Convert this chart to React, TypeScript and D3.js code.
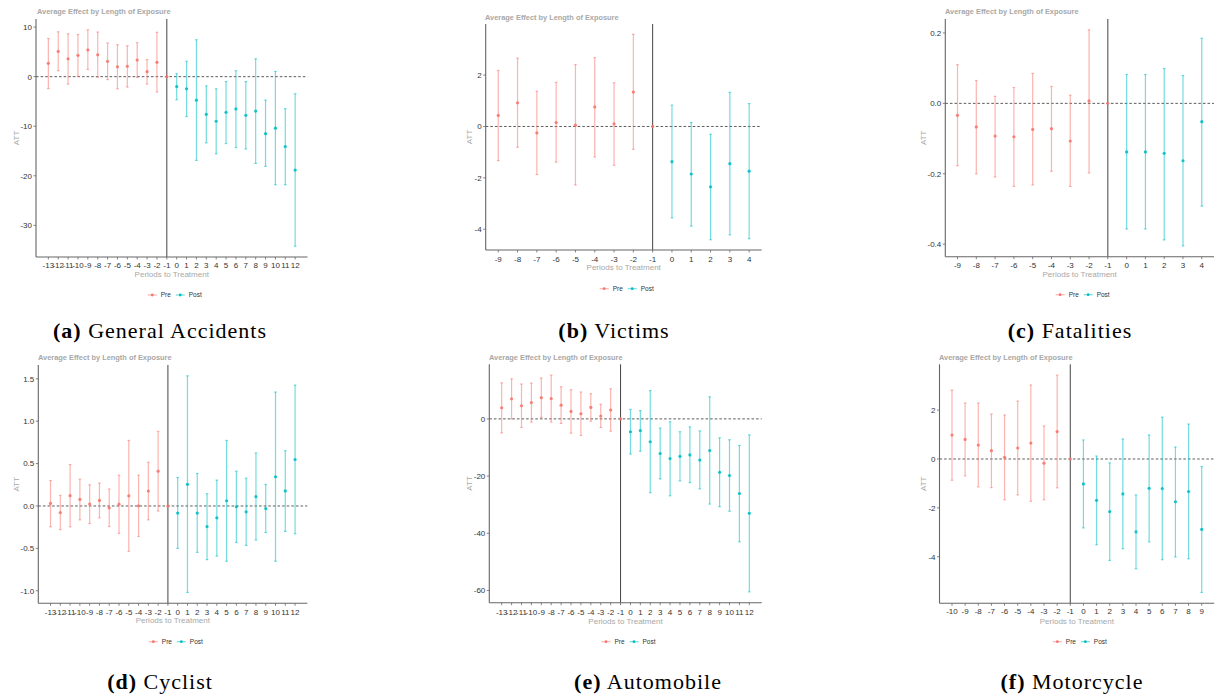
import React from "react";
import * as d3 from "d3";

// ---------- DATA ----------
const accidentsPeriods = [-13, -12, -11, -10, -9, -8, -7, -6, -5, -4, -3, -2, -1, 0, 1, 2, 3, 4, 5, 6, 7, 8, 9, 10, 11, 12];
const accidentsATT = [2.7, 5.1, 3.6, 4.3, 5.4, 4.4, 3.1, 2.0, 2.1, 3.35, 1.0, 2.9, 0, -2.0, -2.45, -4.75, -7.6, -9.0, -7.2, -6.5, -7.8, -6.95, -11.5, -10.4, -14.1, -18.85];
const accidentsLow = [-2.4, 1.2, -1.5, 0.05, 1.45, -0.1, -0.6, -2.45, -2.1, -0.15, -1.5, -3.1, 0, -4.65, -8.05, -16.9, -13.35, -15.55, -13.5, -14.3, -14.6, -17.5, -18.1, -21.8, -21.8, -34.2];
const accidentsHigh = [7.7, 9.05, 8.65, 8.5, 9.45, 9.0, 6.8, 6.45, 6.25, 6.85, 3.45, 8.95, 0, 0.6, 3.1, 7.45, -1.85, -2.45, -1.0, 1.2, -1.0, 3.6, -4.75, 1.05, -6.45, -3.45];
const accidentsYTicks = [10, 0, -10, -20, -30];

const victimsPeriods = [-9, -8, -7, -6, -5, -4, -3, -2, -1, 0, 1, 2, 3, 4];
const victimsATT = [0.43, 0.92, -0.25, 0.15, 0.05, 0.76, 0.1, 1.34, 0, -1.37, -1.85, -2.35, -1.45, -1.74];
const victimsLow = [-1.33, -0.81, -1.87, -1.39, -2.28, -1.19, -1.51, -0.89, 0, -3.56, -3.88, -4.41, -4.22, -4.37];
const victimsHigh = [2.18, 2.66, 1.37, 1.72, 2.41, 2.68, 1.7, 3.59, 0, 0.83, 0.15, -0.3, 1.33, 0.89];
const victimsYTicks = [2, 0, -2, -4];

const fatalitiesPeriods = [-9, -8, -7, -6, -5, -4, -3, -2, -1, 0, 1, 2, 3, 4];
const fatalitiesATT = [-0.034, -0.067, -0.093, -0.095, -0.074, -0.072, -0.107, 0.007, 0, -0.138, -0.138, -0.142, -0.163, -0.052];
const fatalitiesLow = [-0.177, -0.2, -0.209, -0.236, -0.232, -0.193, -0.236, -0.198, 0, -0.357, -0.357, -0.388, -0.405, -0.292];
const fatalitiesHigh = [0.11, 0.065, 0.02, 0.045, 0.085, 0.048, 0.023, 0.209, 0, 0.082, 0.082, 0.099, 0.079, 0.185];
const fatalitiesYTicks = [0.2, 0.0, -0.2, -0.4];

const cyclistPeriods = [-13, -12, -11, -10, -9, -8, -7, -6, -5, -4, -3, -2, -1, 0, 1, 2, 3, 4, 5, 6, 7, 8, 9, 10, 11, 12];
const cyclistATT = [0.03, -0.078, 0.121, 0.077, 0.022, 0.065, -0.022, 0.021, 0.12, 0.002, 0.177, 0.41, 0, -0.084, 0.256, -0.084, -0.243, -0.14, 0.062, -0.009, -0.069, 0.11, -0.03, 0.345, 0.178, 0.548];
const cyclistLow = [-0.246, -0.28, -0.246, -0.164, -0.207, -0.14, -0.242, -0.324, -0.535, -0.36, -0.164, -0.059, 0, -0.5, -1.02, -0.547, -0.633, -0.59, -0.652, -0.43, -0.465, -0.402, -0.313, -0.652, -0.3, -0.328];
const cyclistHigh = [0.3, 0.125, 0.488, 0.316, 0.25, 0.27, 0.2, 0.363, 0.773, 0.363, 0.516, 0.879, 0, 0.336, 1.535, 0.383, 0.145, 0.305, 0.773, 0.41, 0.328, 0.625, 0.254, 1.344, 0.652, 1.426];
const cyclistYTicks = [1.5, 1.0, 0.5, 0.0, -0.5, -1.0];

const automobilePeriods = [-13, -12, -11, -10, -9, -8, -7, -6, -5, -4, -3, -2, -1, 0, 1, 2, 3, 4, 5, 6, 7, 8, 9, 10, 11, 12];
const automobileATT = [3.9, 7.0, 4.6, 5.7, 7.4, 7.1, 4.8, 2.6, 1.8, 4.0, 1.0, 3.1, 0, -4.5, -4.1, -8.0, -12.1, -13.9, -13.1, -12.6, -14.4, -11.05, -18.7, -19.8, -26.1, -33.0];
const automobileLow = [-4.9, 0.0, -3.0, -1.1, 0.5, -1.1, -1.6, -5.0, -5.8, -0.8, -3.0, -4.3, 0, -12.3, -11.3, -25.8, -21.0, -26.9, -21.7, -22.3, -24.5, -29.8, -30.7, -32.3, -43.0, -60.5];
const automobileHigh = [12.6, 14.0, 12.2, 12.5, 14.3, 15.3, 11.2, 10.2, 9.4, 8.8, 5.1, 10.5, 0, 3.3, 2.9, 9.9, -3.2, -1.0, -4.5, -2.8, -4.2, 7.7, -6.6, -7.3, -9.3, -5.6];
const automobileYTicks = [0, -20, -40, -60];

const motorcyclePeriods = [-10, -9, -8, -7, -6, -5, -4, -3, -2, -1, 0, 1, 2, 3, 4, 5, 6, 7, 8, 9];
const motorcycleATT = [0.98, 0.8, 0.57, 0.34, 0.07, 0.45, 0.65, -0.17, 1.12, 0, -1.02, -1.69, -2.15, -1.43, -2.98, -1.2, -1.21, -1.75, -1.33, -2.88];
const motorcycleLow = [-0.87, -0.69, -1.14, -1.17, -1.67, -1.47, -1.73, -1.67, -1.18, 0, -2.82, -3.51, -4.15, -3.67, -4.49, -3.39, -4.12, -4.01, -4.08, -5.46];
const motorcycleHigh = [2.82, 2.29, 2.29, 1.84, 1.8, 2.37, 3.03, 1.35, 3.43, 0, 0.78, 0.12, -0.16, 0.82, -1.47, 0.98, 1.71, 0.49, 1.43, -0.31];
const motorcycleYTicks = [2, 0, -2, -4];

const legendLabels = ["Pre", "Post"];
const plotTitle = "Average Effect by Length of Exposure";
const xTitle = "Periods to Treatment";
const yTitle = "ATT";

// ---------- STYLE / LAYOUT ----------
const PRE = "#F8766D";
const POST = "#00BFC4";
const SANS = "'Liberation Sans', Arial, sans-serif";
const SERIF = "'Liberation Serif', 'Times New Roman', serif";

type Series = { periods: number[]; att: number[]; low: number[]; high: number[]; yTicks: number[]; decimals: number };
type Layout = {
  l: number; r: number; t: number; b: number;
  titleX: number; titleY: number; xTickY: number; xLabelY: number; legendY: number; attX: number;
  capX: number; capY: number; tag: string; caption: string;
};

const panels: { s: Series; L: Layout }[] = [
  {
    s: { periods: accidentsPeriods, att: accidentsATT, low: accidentsLow, high: accidentsHigh, yTicks: accidentsYTicks, decimals: 0 },
    L: { l: 36, r: 307.5, t: 19, b: 257, titleX: 37, titleY: 14, xTickY: 268, xLabelY: 277, legendY: 295, attX: 16, capX: 160, capY: 338, tag: "(a)", caption: "General Accidents" },
  },
  {
    s: { periods: victimsPeriods, att: victimsATT, low: victimsLow, high: victimsHigh, yTicks: victimsYTicks, decimals: 0 },
    L: { l: 485.7, r: 761.7, t: 24, b: 250, titleX: 485, titleY: 20, xTickY: 261.6, xLabelY: 270, legendY: 288.7, attX: 469, capX: 614, capY: 338, tag: "(b)", caption: "Victims" },
  },
  {
    s: { periods: fatalitiesPeriods, att: fatalitiesATT, low: fatalitiesLow, high: fatalitiesHigh, yTicks: fatalitiesYTicks, decimals: 1 },
    L: { l: 945.3, r: 1214, t: 19, b: 256.7, titleX: 945, titleY: 14, xTickY: 268, xLabelY: 277, legendY: 294.7, attX: 923.3, capX: 1070, capY: 338, tag: "(c)", caption: "Fatalities" },
  },
  {
    s: { periods: cyclistPeriods, att: cyclistATT, low: cyclistLow, high: cyclistHigh, yTicks: cyclistYTicks, decimals: 1 },
    L: { l: 38.3, r: 307.3, t: 365, b: 603.3, titleX: 38, titleY: 359.5, xTickY: 614.6, xLabelY: 623, legendY: 641.7, attX: 15.7, capX: 160, capY: 689, tag: "(d)", caption: "Cyclist" },
  },
  {
    s: { periods: automobilePeriods, att: automobileATT, low: automobileLow, high: automobileHigh, yTicks: automobileYTicks, decimals: 0 },
    L: { l: 489.3, r: 761.7, t: 364.3, b: 602.7, titleX: 489, titleY: 359.5, xTickY: 614.6, xLabelY: 623.5, legendY: 641.7, attX: 469.3, capX: 648, capY: 689, tag: "(e)", caption: "Automobile" },
  },
  {
    s: { periods: motorcyclePeriods, att: motorcycleATT, low: motorcycleLow, high: motorcycleHigh, yTicks: motorcycleYTicks, decimals: 0 },
    L: { l: 939.5, r: 1214.2, t: 364.3, b: 603.3, titleX: 939, titleY: 359.5, xTickY: 614, xLabelY: 623.5, legendY: 641.7, attX: 923.3, capX: 1072, capY: 689, tag: "(f)", caption: "Motorcycle" },
  },
];

function fmt(v: number, d: number) {
  return v.toFixed(d);
}

function Panel({ s, L }: { s: Series; L: Layout }) {
  const pMin = d3.min(s.periods)!;
  const pMax = d3.max(s.periods)!;
  const pPad = (pMax - pMin) * 0.05;
  const x = d3.scaleLinear().domain([pMin - pPad, pMax + pPad]).range([L.l, L.r]);
  const yMin = d3.min(s.low)!;
  const yMax = d3.max(s.high)!;
  const yPad = (yMax - yMin) * 0.05;
  const y = d3.scaleLinear().domain([yMin - yPad, yMax + yPad]).range([L.b, L.t]);
  const cx = (L.l + L.r) / 2;
  const cy = (L.t + L.b) / 2;
  const cap = 1.3;
  const lg = L.legendY;
  const lx = cx + 3;
  return (
    <g>
      <text x={L.titleX} y={L.titleY} fontFamily={SANS} fontSize={7.4} fontWeight="bold" fill="#A8A8A8">{plotTitle}</text>
      {/* zero dashed line */}
      <line x1={L.l} x2={L.r} y1={y(0)} y2={y(0)} stroke="#333" strokeWidth={0.8} strokeDasharray="2.6,2" />
      {/* vertical line at -1 */}
      <line x1={x(-1)} x2={x(-1)} y1={L.t} y2={L.b} stroke="#444" strokeWidth={1} />
      {/* error bars */}
      {s.periods.map((p, i) => {
        if (s.low[i] === s.high[i]) return null;
        const c = p < 0 ? PRE : POST;
        const xx = x(p);
        return (
          <g key={"e" + i} stroke={c} strokeOpacity={0.55} strokeWidth={1.2}>
            <line x1={xx} x2={xx} y1={y(s.low[i])} y2={y(s.high[i])} />
            <line x1={xx - cap} x2={xx + cap} y1={y(s.low[i])} y2={y(s.low[i])} />
            <line x1={xx - cap} x2={xx + cap} y1={y(s.high[i])} y2={y(s.high[i])} />
          </g>
        );
      })}
      {/* points */}
      {s.periods.map((p, i) => (
        <circle key={"p" + i} cx={x(p)} cy={y(s.att[i])} r={1.6} fill={p < 0 ? PRE : POST} fillOpacity={0.9} />
      ))}
      {/* axes */}
      <line x1={L.l} x2={L.l} y1={L.t} y2={L.b} stroke="#666" strokeWidth={1.1} />
      <line x1={L.l} x2={L.r} y1={L.b} y2={L.b} stroke="#666" strokeWidth={1.1} />
      {s.yTicks.map((t) => (
        <g key={"yt" + t}>
          <line x1={L.l - 2.5} x2={L.l} y1={y(t)} y2={y(t)} stroke="#666" strokeWidth={0.8} />
          <text x={L.l - 4} y={y(t) + 2.9} textAnchor="end" fontFamily={SANS} fontSize={8} fill="#333">{fmt(t, s.decimals)}</text>
        </g>
      ))}
      {s.periods.map((p) => (
        <g key={"xt" + p}>
          <line x1={x(p)} x2={x(p)} y1={L.b} y2={L.b + 2.5} stroke="#666" strokeWidth={0.8} />
          <text x={x(p)} y={L.xTickY} textAnchor="middle" fontFamily={SANS} fontSize={8} fill="#333">{String(p)}</text>
        </g>
      ))}
      <text x={cx} y={L.xLabelY} textAnchor="middle" fontFamily={SANS} fontSize={8} fill="#A8A8A8">{xTitle}</text>
      <text transform={`translate(${L.attX + 2.9},${cy}) rotate(-90)`} textAnchor="middle" fontFamily={SANS} fontSize={8} fill="#A8A8A8">{yTitle}</text>
      {/* legend */}
      <g>
        <line x1={lx - 27} x2={lx - 18} y1={lg} y2={lg} stroke={PRE} strokeOpacity={0.55} strokeWidth={1.2} />
        <circle cx={lx - 22.5} cy={lg} r={1.4} fill={PRE} />
        <text x={lx - 14} y={lg + 2.3} fontFamily={SANS} fontSize={6.5} fill="#333">{legendLabels[0]}</text>
        <line x1={lx + 1} x2={lx + 10} y1={lg} y2={lg} stroke={POST} strokeOpacity={0.55} strokeWidth={1.2} />
        <circle cx={lx + 5.5} cy={lg} r={1.4} fill={POST} />
        <text x={lx + 14} y={lg + 2.3} fontFamily={SANS} fontSize={6.5} fill="#333">{legendLabels[1]}</text>
      </g>
      {/* caption */}
      <text x={L.capX} y={L.capY} textAnchor="middle" fontFamily={SERIF} fontSize={22} fill="#000" letterSpacing={1}>
        <tspan fontWeight="bold">{L.tag}</tspan>
        <tspan>{" " + L.caption}</tspan>
      </text>
    </g>
  );
}

export default function App() {
  return (
    <svg width={1215} height={698} style={{ position: "fixed", left: 0, top: 0, background: "#fff" }}>
      <rect x={0} y={0} width={1215} height={698} fill="#fff" />
      {panels.map((p, i) => (
        <Panel key={i} s={p.s} L={p.L} />
      ))}
    </svg>
  );
}
